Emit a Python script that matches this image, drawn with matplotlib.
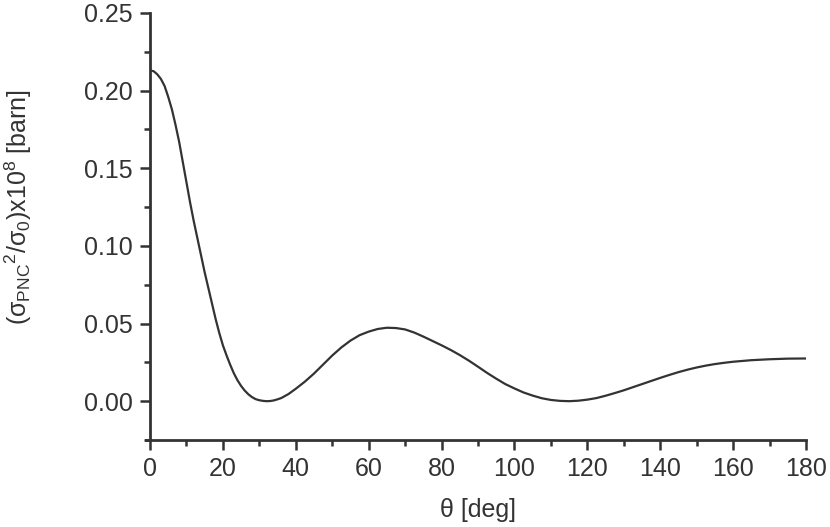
import numpy as np
import matplotlib.pyplot as plt
from matplotlib.ticker import MultipleLocator

# values
theta = [0, 1, 2, 3, 4, 5, 6, 7, 8, 9, 10, 11, 12, 13, 14, 15, 16, 17, 18, 19,
         20, 21, 22, 23, 24, 25, 26, 27, 28, 29, 30, 31, 32, 33, 34, 35, 36, 38,
         40, 42.5, 45, 47.5, 50, 52.5, 55, 57.5, 60, 62.5, 65, 67.5, 70, 72.5,
         75, 77.5, 80, 82.5, 85, 87.5, 90, 92.5, 95, 97.5, 100, 102.5, 105,
         107.5, 110, 112.5, 115, 117.5, 120, 122.5, 125, 127.5, 130, 132.5, 135,
         137.5, 140, 142.5, 145, 147.5, 150, 152.5, 155, 157.5, 160, 165, 170,
         175, 180]
sigma_ratio = [0.213, 0.2125, 0.2105, 0.2075, 0.203, 0.196, 0.188, 0.178, 0.167,
               0.154, 0.141, 0.128, 0.116, 0.105, 0.094, 0.083, 0.073, 0.063,
               0.053, 0.044, 0.036, 0.0295, 0.0235, 0.018, 0.0135, 0.0098, 0.0068,
               0.0044, 0.0026, 0.0013, 0.0006, 0.0002, 0.0, 0.0001, 0.0005, 0.0012,
               0.002, 0.0046, 0.0080, 0.0126, 0.0178, 0.0236, 0.0294, 0.0346, 0.039,
               0.0425, 0.0448, 0.0465, 0.0473, 0.0471, 0.0462, 0.0442, 0.0416,
               0.0388, 0.036, 0.033, 0.0297, 0.0261, 0.0222, 0.0182, 0.0145, 0.011,
               0.0082, 0.0056, 0.0036, 0.0019, 0.0008, 0.0002, 0.0, 0.0003, 0.001,
               0.002, 0.0035, 0.0052, 0.007, 0.009, 0.011, 0.013, 0.015, 0.0169,
               0.0187, 0.0203, 0.0217, 0.0229, 0.0239, 0.0247, 0.0254, 0.0264,
               0.027, 0.0274, 0.0275]

xticks = [0, 20, 40, 60, 80, 100, 120, 140, 160, 180]
yticks = [0.00, 0.05, 0.10, 0.15, 0.20, 0.25]

dark = '#333333'
plt.rcParams['font.family'] = ['Liberation Sans', 'DejaVu Sans']
plt.rcParams['mathtext.fontset'] = 'custom'
plt.rcParams['mathtext.rm'] = 'Liberation Sans'

fig = plt.figure(figsize=(8.3, 5.27), dpi=100)
ax = fig.add_axes([150/830, 1 - 440/527, 656/830, 427/527])

ax.plot(theta, sigma_ratio, color=dark, lw=1.6)

ax.set_xlim(0, 180)
ax.set_ylim(-0.025, 0.25)
ax.set_xticks(xticks)
ax.set_yticks(yticks)
ax.set_yticklabels([f"{v:.2f}" for v in yticks])
ax.xaxis.set_minor_locator(MultipleLocator(10))
ax.yaxis.set_minor_locator(MultipleLocator(0.025))

for side in ['top', 'right']:
    ax.spines[side].set_visible(False)
for side in ['left', 'bottom']:
    ax.spines[side].set_linewidth(2)
    ax.spines[side].set_color(dark)
ax.spines['bottom'].set_bounds(-1.0, 180)

ax.tick_params(which='major', direction='out', length=7.5, width=1.8, color=dark,
               labelsize=18, labelcolor=dark, pad=5)
ax.tick_params(which='minor', direction='out', length=4, width=1.8, color=dark)

ax.set_xlabel('θ [deg]', fontsize=18, color=dark, labelpad=12)
ax.set_ylabel(r'(σ$_{\mathregular{PNC}}$$^{\mathregular{2}}$/σ$_{\mathregular{0}}$)x10$^{\mathregular{8}}$ [barn]',
              fontsize=18, color=dark)
ax.yaxis.set_label_coords(-116/656, 0.545)

fig.savefig('out.png', dpi=100)
